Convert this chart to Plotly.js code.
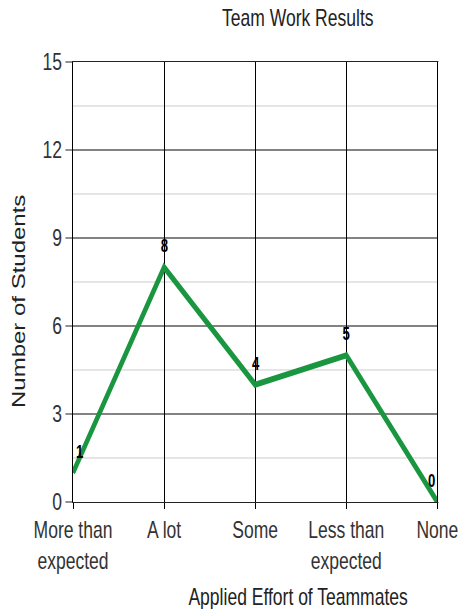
<!DOCTYPE html>
<html><head><meta charset="utf-8">
<script src="https://cdn.plot.ly/plotly-3.0.1.min.js"></script>
<style>
html,body{margin:0;padding:0;background:#fff;overflow:hidden;width:460px;height:609px}
#c{width:630px;height:609px;transform:scaleX(0.7302);transform-origin:0 0}
</style>
</head><body><div id="c"></div>
<script>
const categories = ["More than<br>expected", "A lot", "Some", "Less than<br>expected", "None"];
const students = [1, 8, 4, 5, 0];
const yTicks = [0, 3, 6, 9, 12, 15];
const labelShift = [9, 0, 0, 0, -8];
const chartTitle = "Team Work Results";
const xTitle = "Applied Effort of Teammates";
const yTitle = "Number of Students";

const font = 'Arial, "Liberation Sans", sans-serif';

const trace = {
  type: 'scatter',
  mode: 'lines',
  x: categories,
  y: students,
  line: {color: '#1a9641', width: 6},
  hoverinfo: 'skip'
};

const valueLabels = students.map((v, i) => ({
  text: String(v), x: categories[i], y: v, xref: 'x', yref: 'y',
  xanchor: 'center', yanchor: 'middle', xshift: labelShift[i], yshift: 21,
  showarrow: false, font: {family: font, size: 18, color: '#000', weight: 'bold'}
}));

const layout = {
  width: 630, height: 609,
  margin: {l: 100, r: 31, t: 62, b: 107},
  paper_bgcolor: '#fff', plot_bgcolor: '#fff',
  showlegend: false,
  xaxis: {
    type: 'category', range: [0, 4],
    showgrid: true, gridcolor: '#000', gridwidth: 1.4,
    showline: true, linecolor: '#000', linewidth: 1, mirror: true,
    ticks: 'outside', ticklen: 6, tickwidth: 1.4, tickcolor: '#000',
    tickfont: {family: font, size: 24, color: '#333'},
    zeroline: false, fixedrange: true
  },
  yaxis: {
    range: [0, 15], tickvals: yTicks,
    showgrid: true, gridcolor: '#000', gridwidth: 1,
    minor: {dtick: 1.5, tick0: 0, showgrid: true, gridcolor: '#c4c4c4', gridwidth: 1},
    showline: true, linecolor: '#000', linewidth: 1.4, mirror: true,
    ticks: 'outside', ticklen: 9, tickcolor: '#000',
    tickfont: {family: font, size: 24, color: '#333'},
    zeroline: false, fixedrange: true
  },
  annotations: [
    {text: chartTitle, xref: 'paper', yref: 'paper', x: 0.618, y: 1, xanchor: 'center', yanchor: 'middle',
     yshift: 45, showarrow: false, font: {family: font, size: 24, color: '#222'}},
    {text: xTitle, xref: 'paper', yref: 'paper', x: 0.618, y: 0, xanchor: 'center', yanchor: 'middle',
     yshift: -94, showarrow: false, font: {family: font, size: 24, color: '#222'}},
    {text: yTitle, xref: 'paper', yref: 'paper', x: 0, y: 0.4545, xanchor: 'center', yanchor: 'middle',
     xshift: -75, textangle: -90, showarrow: false, font: {family: font, size: 24, color: '#222'}}
  ].concat(valueLabels)
};

Plotly.newPlot('c', [trace], layout, {displayModeBar: false, staticPlot: true});
</script>
</body></html>
